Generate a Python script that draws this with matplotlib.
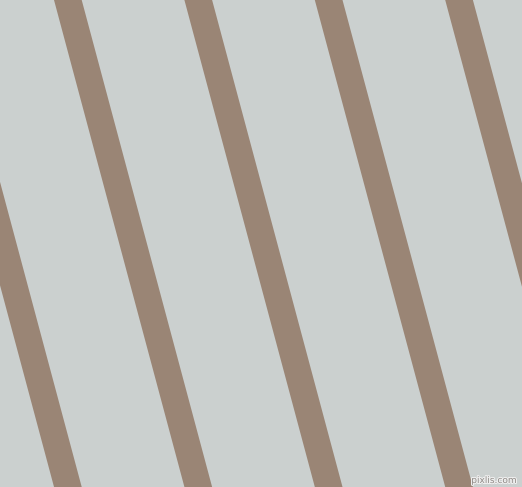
import matplotlib
matplotlib.use("Agg")
import matplotlib.pyplot as plt
import matplotlib.patheffects as pe
import numpy as np

W, H = 522, 487
bg_color = "#cbd0cf"
stripe_color = "#9a8575"
stripe_left_at_top = [-76.4, 54.0, 184.4, 314.8, 445.2]
stripe_width = 27.7
slope = 0.2678  # dx per dy

fig = plt.figure(figsize=(W / 100, H / 100), dpi=100)
ax = fig.add_axes([0, 0, 1, 1])
ax.set_xlim(0, W)
ax.set_ylim(H, 0)
ax.axis("off")
fig.patch.set_facecolor(bg_color)
ax.set_facecolor(bg_color)

y = np.array([0, H])
for x0 in stripe_left_at_top:
    ax.fill_betweenx(y, x0 + slope * y, x0 + stripe_width + slope * y,
                     color=stripe_color, linewidth=0)

ax.text(517, 485, "pixlis.com", fontsize=6.5, color="#8f8a86", ha="right", va="bottom",
        path_effects=[pe.withStroke(linewidth=1.5, foreground="#eeeeee")])

fig.savefig("out.png", dpi=100, facecolor=bg_color)
